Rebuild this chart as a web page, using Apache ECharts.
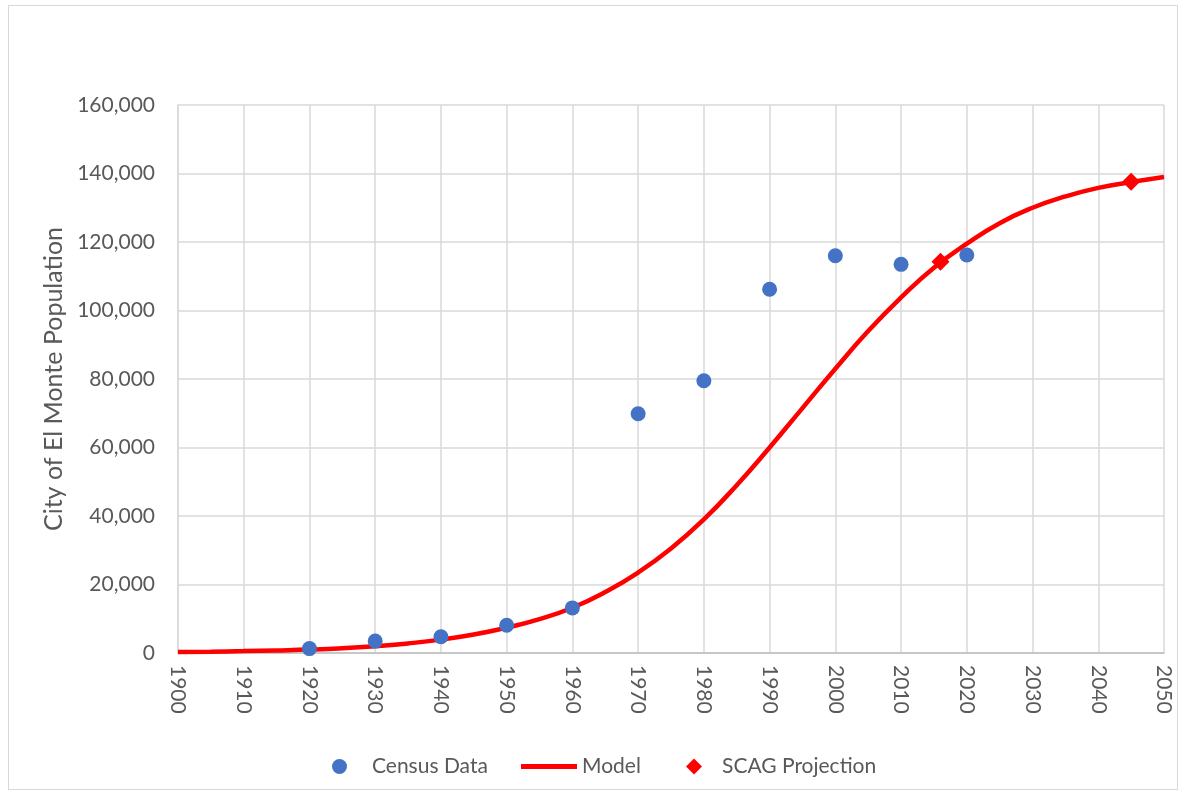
<!DOCTYPE html>
<html>
<head>
<meta charset="utf-8">
<script src="https://cdn.jsdelivr.net/npm/echarts@6/dist/echarts.min.js"></script>
<style>
  html, body { margin: 0; padding: 0; background: #ffffff; }
  #frame { position: absolute; left: 8px; top: 5px; width: 1170px; height: 785px; border: 1.5px solid #d9d9d9; box-sizing: border-box; }
  #chart { position: absolute; left: 0; top: 0; width: 1186px; height: 798px; }
</style>
</head>
<body>
<div id="frame"></div>
<div id="chart"></div>
<script>
// Decennial census counts for El Monte
const censusYears = [1920, 1930, 1940, 1950, 1960, 1970, 1980, 1990, 2000, 2010, 2020];
const censusPop   = [1283, 3479, 4746, 8101, 13163, 69837, 79494, 106209, 115965, 113475, 116200];

// Fitted growth model, sampled every five years
const modelYears = [1900, 1905, 1910, 1915, 1920, 1925, 1930, 1935, 1940, 1945, 1950, 1955, 1960, 1965, 1970, 1975,
                    1980, 1985, 1990, 1995, 2000, 2005, 2010, 2015, 2020, 2025, 2030, 2035, 2040, 2045, 2050];
const modelPop   = [300, 400, 550, 750, 1000, 1400, 2000, 2800, 3900, 5400, 7400, 9900, 13200, 17800, 23500, 30500,
                    39000, 49000, 60000, 71500, 83000, 94000, 103800, 112500, 119500, 125500, 130000, 133300, 135800, 137500, 139000];

// SCAG projections
const scagYears = [2016, 2045];
const scagPop   = [114200, 137600];

const pair = (xs, ys) => xs.map((x, i) => [x, ys[i]]);

const FONT = 'Lato';
const GREY = '#595959';
const legendText = { color: GREY, fontSize: 21, fontFamily: FONT };

const chart = echarts.init(document.getElementById('chart'), null, { renderer: 'canvas' });
chart.setOption({
  animation: false,
  grid: { left: 178, right: 22, top: 105, bottom: 145, containLabel: false },
  xAxis: {
    type: 'value', min: 1900, max: 2050, interval: 10,
    axisLine: { show: true, lineStyle: { color: '#bfbfbf', width: 1.5 } },
    axisTick: { show: false },
    splitLine: { show: true, lineStyle: { color: '#d9d9d9', width: 1.5 } },
    axisLabel: { rotate: -90, margin: 12, color: GREY, fontSize: 21, fontFamily: FONT, formatter: v => String(v) }
  },
  yAxis: {
    type: 'value', min: 0, max: 160000, interval: 20000,
    name: 'City of El Monte Population', nameLocation: 'middle', nameGap: 104,
    nameTextStyle: { color: GREY, fontSize: 25, fontFamily: FONT },
    axisLine: { show: true, lineStyle: { color: '#d9d9d9', width: 1.5 } },
    axisTick: { show: false },
    splitLine: { show: true, lineStyle: { color: '#d9d9d9', width: 1.5 } },
    axisLabel: { margin: 23, color: GREY, fontSize: 21, fontFamily: FONT, formatter: v => v.toLocaleString('en-US') }
  },
  legend: [
    { data: [{ name: 'Census Data', icon: 'circle' }], left: 332, top: 756, padding: 0, itemWidth: 15, itemHeight: 15,
      textStyle: Object.assign({ padding: [0, 0, 0, 20] }, legendText) },
    { data: [{ name: 'Model', icon: 'rect' }], left: 521, top: 756, padding: 0, itemWidth: 56, itemHeight: 5, itemGap: 2,
      itemStyle: { color: '#ff0000' }, textStyle: legendText },
    { data: [{ name: 'SCAG Projection', icon: 'diamond' }], left: 686, top: 756, padding: 0, itemWidth: 16, itemHeight: 16,
      textStyle: Object.assign({ padding: [0, 0, 0, 15] }, legendText) }
  ],
  series: [
    {
      name: 'Model', type: 'line', data: pair(modelYears, modelPop), smooth: true, symbol: 'none', showSymbol: false,
      lineStyle: { color: '#ff0000', width: 4.5 }, itemStyle: { color: '#ff0000' }, z: 2
    },
    {
      name: 'Census Data', type: 'scatter', data: pair(censusYears, censusPop), symbol: 'circle', symbolSize: 15,
      itemStyle: { color: '#4472c4', opacity: 1 }, z: 3
    },
    {
      name: 'SCAG Projection', type: 'scatter', data: pair(scagYears, scagPop), symbol: 'diamond', symbolSize: 18,
      itemStyle: { color: '#ff0000', opacity: 1 }, z: 4
    }
  ]
});
</script>
</body>
</html>
